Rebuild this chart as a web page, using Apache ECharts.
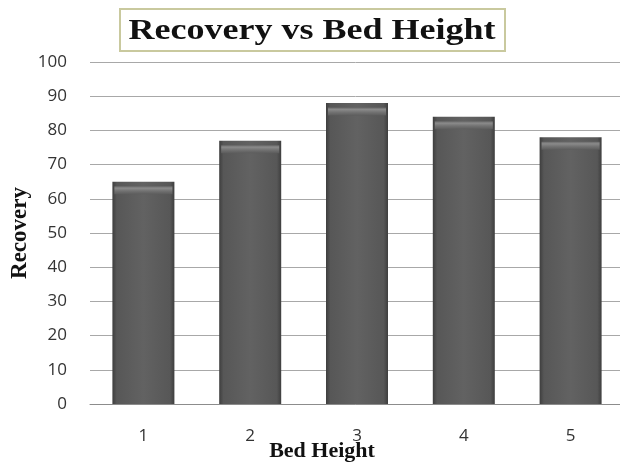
<!DOCTYPE html>
<html>
<head>
<meta charset="utf-8">
<script src="https://cdn.jsdelivr.net/npm/echarts@6/dist/echarts.min.js"></script>
<style>
  html, body { margin: 0; padding: 0; background: #fff; }
  #chart { width: 620px; height: 463px; }
</style>
</head>
<body>
<div id="chart"></div>
<script>
// Recovery measured at each bed height
const bedHeights = ['1', '2', '3', '4', '5'];
const recovery = [65, 77, 88, 84, 78];
const chartTitle = 'Recovery vs Bed Height';

const chart = echarts.init(document.getElementById('chart'));

const serif = '"Liberation Serif", "Times New Roman", serif';
const sans = '"Open Sans", "Noto Sans", sans-serif';

const barBody = new echarts.graphic.LinearGradient(0, 0, 1, 0, [
  { offset: 0, color: '#3e3e3e' },
  { offset: 0.07, color: '#575757' },
  { offset: 0.5, color: '#626262' },
  { offset: 0.93, color: '#575757' },
  { offset: 1, color: '#3e3e3e' }
]);
const barCap = new echarts.graphic.LinearGradient(0, 0, 0, 1, [
  { offset: 0, color: '#6a6a6a' },
  { offset: 0.25, color: '#8a8a8a' },
  { offset: 0.6, color: '#727272' },
  { offset: 1, color: '#5c5c5c' }
]);

chart.setOption({
  animation: false,
  graphic: [
    {
      // framed title
      type: 'group',
      left: 119,
      top: 8,
      children: [
        {
          type: 'rect',
          shape: { x: 0, y: 0, width: 385, height: 42 },
          style: { fill: '#fff', stroke: '#c9c99e', lineWidth: 2 }
        },
        {
          type: 'text',
          x: 192,
          y: 22,
          scaleX: 1.2,
          style: {
            text: chartTitle,
            fontFamily: serif,
            fontWeight: 'bold',
            fontSize: 30,
            fill: '#111',
            align: 'center',
            verticalAlign: 'middle'
          }
        }
      ]
    }
  ],
  grid: {
    left: 90,
    top: 62,
    width: 534,
    height: 342,
    outerBoundsMode: 'none',
    containLabel: false
  },
  xAxis: {
    type: 'category',
    data: bedHeights,
    name: 'Bed Height',
    nameLocation: 'middle',
    nameGap: 36,
    nameMoveOverlap: false,
    nameTextStyle: {
      fontFamily: serif,
      fontWeight: 'bold',
      fontSize: 22,
      color: '#111',
      padding: [0, 70, 0, 0]
    },
    axisLine: { lineStyle: { color: '#8c8c8c', width: 1 } },
    axisTick: { show: false },
    axisLabel: {
      margin: 24,
      fontFamily: sans,
      fontSize: 17,
      color: '#333'
    }
  },
  yAxis: {
    type: 'value',
    min: 0,
    max: 100,
    interval: 10,
    name: 'Recovery',
    nameLocation: 'middle',
    nameGap: 58,
    nameMoveOverlap: false,
    nameTextStyle: {
      fontFamily: serif,
      fontWeight: 'bold',
      fontSize: 23,
      color: '#111'
    },
    axisLine: { show: false },
    axisTick: { show: false },
    axisLabel: {
      margin: 23,
      fontFamily: sans,
      fontSize: 17,
      color: '#333'
    },
    splitLine: { lineStyle: { color: '#a8a8a8', width: 1 } }
  },
  series: [
    {
      type: 'bar',
      data: recovery,
      barWidth: 62,
      itemStyle: { color: barBody },
      z: 2
    },
    {
      // bevelled cap along the top of each bar
      type: 'pictorialBar',
      data: recovery,
      symbol: 'rect',
      symbolSize: [58, 8],
      symbolPosition: 'end',
      symbolOffset: [0, 4.5],
      itemStyle: { color: barCap },
      z: 3,
      silent: true
    }
  ]
});
</script>
</body>
</html>
